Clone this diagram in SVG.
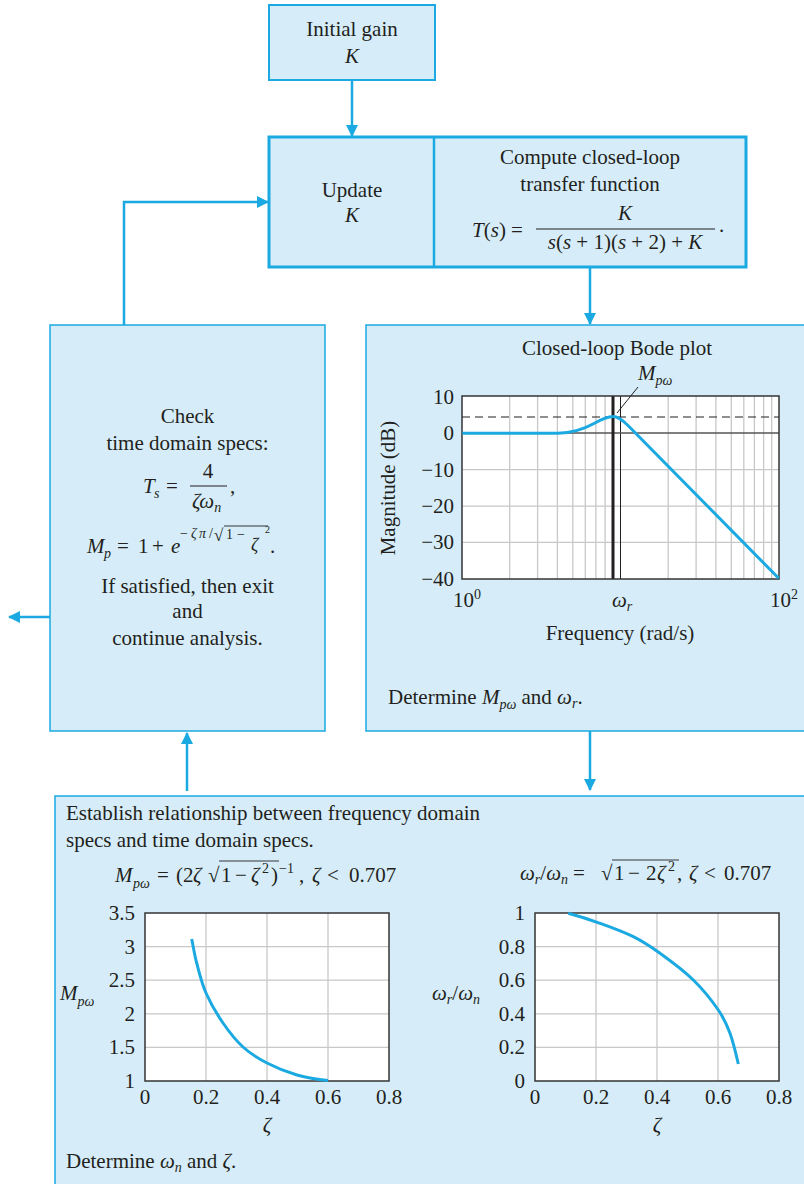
<svg xmlns="http://www.w3.org/2000/svg" width="804" height="1184" viewBox="0 0 804 1184">
<defs>
<style>
text{font-family:"Liberation Serif","Times New Roman",serif;font-size:21px;fill:#231f20}
.i{font-style:italic}
.s{font-size:14px}
.m{text-anchor:middle}
.e{text-anchor:end}
.box{fill:#d6edf9;stroke:#1ba9e1;stroke-width:1.5}
.conn{stroke:#1ba9e1;stroke-width:2.5;fill:none}
.grid{stroke:#c8c8c8;stroke-width:1.3;fill:none}
.frame{fill:none;stroke:#333;stroke-width:1.5}
.curve{fill:none;stroke:#1ba9e1;stroke-width:3}
.bar{stroke:#231f20;stroke-width:1.1}
.ov{stroke:#231f20;stroke-width:0.9}
</style>
<marker id="ah" viewBox="0 0 12 12" markerWidth="12" markerHeight="12" refX="11" refY="6" orient="auto" markerUnits="userSpaceOnUse">
<path d="M0,0 L12,6 L0,12 z" fill="#1ba9e1"/>
</marker>
</defs>
<rect width="804" height="1184" fill="#fff"/>

<g id="connectors">
<path class="conn" d="M352,80 V136" marker-end="url(#ah)"/>
<path class="conn" d="M124,325 V202 H268" marker-end="url(#ah)"/>
<path class="conn" d="M590,268 V324" marker-end="url(#ah)"/>
<path class="conn" d="M590,731 V790" marker-end="url(#ah)"/>
<path class="conn" d="M187,791 V733" marker-end="url(#ah)"/>
<path class="conn" d="M50,617 H9" marker-end="url(#ah)"/>
</g>

<g id="initial-gain">
<rect class="box" x="269" y="5" width="166" height="75" style="stroke-width:2"/>
<text class="m" x="352" y="36">Initial gain</text>
<text class="m i" x="352" y="63">K</text>
</g>

<g id="update-compute">
<rect class="box" x="269" y="137" width="477" height="130" style="stroke-width:3"/>
<line x1="434" y1="137" x2="434" y2="267" stroke="#1ba9e1" stroke-width="2.5"/>
<text class="m" x="352" y="197">Update</text>
<text class="m i" x="352" y="222">K</text>
<text class="m" x="590" y="164">Compute closed-loop</text>
<text class="m" x="590" y="191">transfer function</text>
<text x="472" y="237"><tspan class="i">T</tspan>(<tspan class="i">s</tspan>) =</text>
<line class="bar" x1="536" y1="229" x2="715" y2="229"/>
<text class="m i" x="625" y="220">K</text>
<text class="m" x="625" y="249"><tspan class="i">s</tspan>(<tspan class="i">s</tspan> + 1)(<tspan class="i">s</tspan> + 2) + <tspan class="i">K</tspan></text>
<text x="719" y="232">.</text>
</g>

<g id="check-specs">
<rect class="box" x="50" y="325" width="275" height="406"/>
<text class="m" x="187.5" y="423">Check</text>
<text class="m" x="187.5" y="450">time domain specs:</text>
<text class="i" x="143" y="493">T</text>
<text class="i s" x="154" y="498">s</text>
<text x="166" y="493">=</text>
<text class="m" x="208" y="478">4</text>
<line class="bar" x1="190" y1="486" x2="227" y2="486"/>
<text x="192" y="508"><tspan class="i">ζω</tspan><tspan class="i s" dy="4">n</tspan></text>
<text x="230" y="493">,</text>
<text class="i" x="87" y="553">M</text>
<text class="i s" x="104" y="558">p</text>
<text x="117" y="553">=</text>
<text x="138" y="553">1</text>
<text x="152" y="553">+</text>
<text class="i" x="171" y="553">e</text>
<text class="s" x="180" y="538">−</text>
<text class="s i" x="191" y="538">ζ</text>
<text class="s i" x="199" y="538">π</text>
<text class="s" x="209" y="538">/</text>
<text x="214" y="541" style="font-size:17px">√</text>
<line class="ov" x1="224" y1="526" x2="268" y2="526"/>
<text class="s" x="226" y="539">1</text>
<text class="s" x="237" y="539">−</text>
<text class="i" x="251" y="551" style="font-size:18px">ζ</text>
<text x="265" y="533" style="font-size:10px">2</text>
<text x="270" y="553">.</text>
<text class="m" x="187.5" y="593">If satisfied, then exit</text>
<text class="m" x="187.5" y="618">and</text>
<text class="m" x="187.5" y="645">continue analysis.</text>
</g>

<g id="bode">
<rect class="box" x="366" y="325" width="444" height="406"/>
<text class="m" x="617" y="355">Closed-loop Bode plot</text>
<text x="638" y="380"><tspan class="i">M</tspan><tspan class="i s" dy="5">pω</tspan></text>
<rect x="462" y="396" width="317" height="183" fill="#fff"/>
<g class="grid">
<path d="M509.7,396V579 M537.6,396V579 M557.4,396V579 M572.8,396V579 M585.3,396V579 M595.9,396V579 M605.1,396V579 M668.2,396V579 M696.1,396V579 M715.9,396V579 M731.3,396V579 M743.8,396V579 M754.4,396V579 M763.6,396V579 M771.7,396V579"/>
<path d="M462,469.6H779 M462,506.2H779 M462,542.4H779"/>
</g>
<line x1="620.5" y1="396" x2="620.5" y2="579" stroke="#231f20" stroke-width="1"/>
<line x1="462" y1="433" x2="779" y2="433" stroke="#555" stroke-width="1.3"/>
<line x1="462" y1="417" x2="779" y2="417" stroke="#231f20" stroke-width="1.2" stroke-dasharray="8,5"/>
<line x1="613" y1="396" x2="613" y2="579" stroke="#231f20" stroke-width="3"/>
<rect class="frame" x="462" y="396" width="317" height="183"/>
<path class="curve" d="M462.3,433.3 L558,433.3 C572,433 584,429 594,423.5 C602,419 607,416.5 613,416.5 C618,416.5 622,419.5 628,425.5 L778.7,578.3"/>
<line x1="638" y1="387" x2="617" y2="413" stroke="#231f20" stroke-width="1"/>
<text class="e" x="454" y="404">10</text>
<text class="e" x="454" y="440">0</text>
<text class="e" x="454" y="477">−10</text>
<text class="e" x="454" y="513">−20</text>
<text class="e" x="454" y="549">−30</text>
<text class="e" x="454" y="586">−40</text>
<text x="453" y="607">10<tspan class="s" dy="-8">0</tspan></text>
<text x="612" y="607"><tspan class="i">ω</tspan><tspan class="i s" dy="4">r</tspan></text>
<text x="770" y="607">10<tspan class="s" dy="-8">2</tspan></text>
<text class="m" x="620" y="640">Frequency (rad/s)</text>
<text class="m" transform="translate(395,488) rotate(-90)">Magnitude (dB)</text>
<text x="388" y="704">Determine <tspan class="i">M</tspan><tspan class="i s" dy="5">pω</tspan><tspan dy="-5"> and </tspan><tspan class="i">ω</tspan><tspan class="i s" dy="4">r</tspan><tspan dy="-4">.</tspan></text>
</g>

<g id="relationship">
<rect class="box" x="55" y="796" width="760" height="400"/>
<text x="66" y="820">Establish relationship between frequency domain</text>
<text x="66" y="847">specs and time domain specs.</text>

<text class="i" x="115" y="882">M</text>
<text class="i s" x="133" y="888">pω</text>
<text x="157" y="882">=</text>
<text x="176" y="882">(2</text>
<text class="i" x="193" y="882">ζ</text>
<text x="208" y="882">√</text>
<line class="ov" x1="219" y1="861" x2="279" y2="861"/>
<text x="221" y="882">1</text>
<text x="235" y="882">−</text>
<text class="i" x="251" y="882">ζ</text>
<text class="s" x="262" y="873">2</text>
<text x="271" y="882">)</text>
<text class="s" x="279" y="873">−1</text>
<text x="299" y="882">,</text>
<text class="i" x="312" y="882">ζ</text>
<text x="327" y="882">&lt;</text>
<text x="349" y="882">0.707</text>

<text x="520" y="880"><tspan class="i">ω</tspan><tspan class="i s" dy="4">r</tspan><tspan dy="-4">/</tspan><tspan class="i">ω</tspan><tspan class="i s" dy="4">n</tspan></text>
<text x="573" y="880">=</text>
<text x="601" y="880">√</text>
<line class="ov" x1="612" y1="860" x2="679" y2="860"/>
<text x="614" y="880">1</text>
<text x="628" y="880">−</text>
<text x="646" y="880">2</text>
<text class="i" x="657" y="880">ζ</text>
<text class="s" x="668" y="871">2</text>
<text x="677" y="880">,</text>
<text class="i" x="689" y="880">ζ</text>
<text x="704" y="880">&lt;</text>
<text x="724" y="880">0.707</text>

<rect x="145" y="913" width="244" height="168" fill="#fff"/>
<path class="grid" d="M206,913V1081 M267,913V1081 M328,913V1081 M145,946.6H389 M145,980.2H389 M145,1013.8H389 M145,1047.4H389"/>
<rect class="frame" x="145" y="913" width="244" height="168"/>
<path class="curve" d="M191.7,939 C193.4,947 194.3,954 196.7,963 C199.1,972 201.6,983 206,993 C210.4,1003 216.8,1014 223,1023 C229.2,1032 235.7,1040.3 243,1047 C250.3,1053.7 258,1058.3 267,1063 C276,1067.7 286.8,1072.1 297,1075 C307.2,1077.9 317.7,1079.5 328,1080.5"/>
<text class="e" x="135" y="920">3.5</text>
<text class="e" x="135" y="954">3</text>
<text class="e" x="135" y="987">2.5</text>
<text class="e" x="135" y="1021">2</text>
<text class="e" x="135" y="1054">1.5</text>
<text class="e" x="135" y="1088">1</text>
<text class="m" x="145" y="1104">0</text>
<text class="m" x="206" y="1104">0.2</text>
<text class="m" x="267" y="1104">0.4</text>
<text class="m" x="328" y="1104">0.6</text>
<text class="m" x="389" y="1104">0.8</text>
<text class="m i" x="267" y="1132">ζ</text>
<text x="60" y="1000"><tspan class="i">M</tspan><tspan class="i s" dy="6">pω</tspan></text>

<rect x="535" y="913" width="244" height="168" fill="#fff"/>
<path class="grid" d="M596,913V1081 M657,913V1081 M718,913V1081 M535,946.6H779 M535,980.2H779 M535,1013.8H779 M535,1047.4H779"/>
<rect class="frame" x="535" y="913" width="244" height="168"/>
<path class="curve" d="M568.3,913.3 C578.9,916.2 589.2,919.4 600,923.3 C610.8,927.2 623.3,931.7 633.3,936.7 C643.3,941.7 650,946.1 660,953.3 C670,960.5 683.6,970.55 693.3,980 C703,989.45 712.2,1001.1 718.3,1010 C724.4,1018.9 726.7,1024.3 730,1033.3 C733.3,1042.3 736,1053.9 738.3,1064"/>
<text class="e" x="525" y="920">1</text>
<text class="e" x="525" y="954">0.8</text>
<text class="e" x="525" y="987">0.6</text>
<text class="e" x="525" y="1021">0.4</text>
<text class="e" x="525" y="1054">0.2</text>
<text class="e" x="525" y="1088">0</text>
<text class="m" x="535" y="1104">0</text>
<text class="m" x="596" y="1104">0.2</text>
<text class="m" x="657" y="1104">0.4</text>
<text class="m" x="718" y="1104">0.6</text>
<text class="m" x="779" y="1104">0.8</text>
<text class="m i" x="657" y="1132">ζ</text>
<text x="432" y="1000"><tspan class="i">ω</tspan><tspan class="i s" dy="4">r</tspan><tspan dy="-4">/</tspan><tspan class="i">ω</tspan><tspan class="i s" dy="4">n</tspan></text>
<text x="66" y="1168">Determine <tspan class="i">ω</tspan><tspan class="i s" dy="4">n</tspan><tspan dy="-4"> and </tspan><tspan class="i">ζ</tspan>.</text>
</g>
</svg>
